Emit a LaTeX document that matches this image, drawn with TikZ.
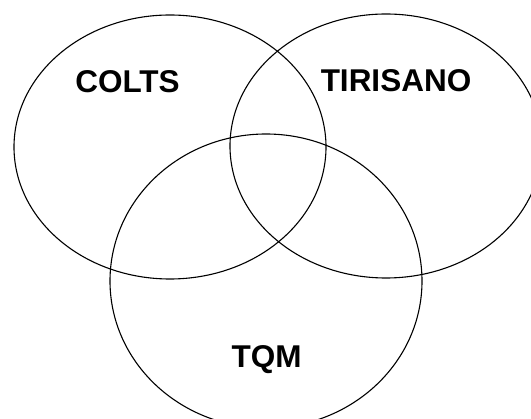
\documentclass[tikz,border=0pt]{standalone}
\usepackage{fontspec}
\setmainfont{Liberation Sans}
\usepackage{tikz}
\usetikzlibrary{shapes.geometric}

\begin{document}
\begin{tikzpicture}[
  x=1pt, y=-1pt,
  set/.style={draw, ellipse, line width=1.1pt, minimum width=312pt, inner sep=0pt},
  setname/.style={font=\fontsize{31.5}{36}\selectfont\bfseries, anchor=base, inner sep=0pt}
]
\useasboundingbox (0,0) rectangle (531,419);
\clip (0,0) rectangle (531,419);

% Sets
\node[set, minimum height=264pt] (COLTS) at (170,147) {};
\node[set, minimum height=264pt] (TIRISANO) at (386,146) {};
\node[set, minimum height=294pt] (TQM) at (266,281) {};

% Set names
\node[setname] (COLTSName) at (127.5,92.5) {COLTS};
\node[setname] (TIRISANOName) at (396,92) {TIRISANO};
\node[setname] (TQMName) at (266.5,368) {TQM};

\end{tikzpicture}
\end{document}
